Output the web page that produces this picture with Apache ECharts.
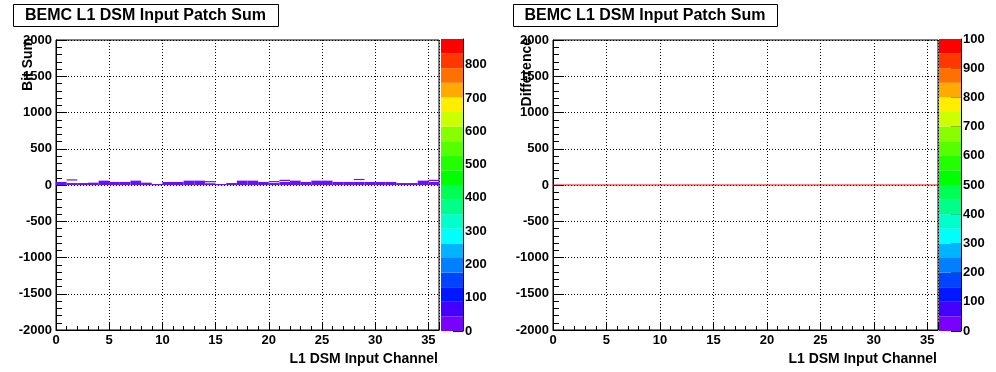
<!DOCTYPE html>
<html><head><meta charset="utf-8">
<script src="https://cdn.jsdelivr.net/npm/echarts@6/dist/echarts.min.js"></script>
<style>html,body{margin:0;padding:0;background:#fff}#c{width:996px;height:372px}</style>
</head><body><div id="c"></div>
<script>
// ---- data ----
const titleText = 'BEMC L1 DSM Input Patch Sum';
const xTitle = 'L1 DSM Input Channel';
const yTitleLeft = 'Bit Sum';
const yTitleRight = 'Difference';
const channels = [0,1,2,3,4,5,6,7,8,9,10,11,12,13,14,15,16,17,18,19,20,21,22,23,24,25,26,27,28,29,30,31,32,33,34,35];
// top of the filled band of (low-count) cells, per channel
const bandTop = [42,27,27,32,60,42,42,60,32,14,42,42,60,60,24,14,27,60,60,42,27,42,60,42,60,60,42,42,42,42,42,42,27,27,60,42];
// isolated single cells above the band
const isoChannel = [1,14,20,21,28,35];
const isoValue = [66,42,42,60,72,60];
// difference histogram: all zero
const diffValues = [0,0,0,0,0,0,0,0,0,0,0,0,0,0,0,0,0,0,0,0,0,0,0,0,0,0,0,0,0,0,0,0,0,0,0,0];
const zMaxLeft = 877;
const zMaxRight = 1000;

// ---- style ----
const palette = ['#7a00ff','#4400ff','#0018ff','#0044ff','#0080ff','#00b4ff','#00ffff','#00ffcc','#00ff88','#00ff55',
                 '#00ff00','#22ff00','#55ff00','#88ff00','#ccff00','#ffee00','#ffaa00','#ff7000','#ff3800','#ff0000'];
const cellColor = '#6a10ff';
const F = 'Liberation Sans, Arial, Helvetica, sans-serif';

const chart = echarts.init(document.getElementById('c'), null, {renderer:'canvas'});

function rectRender(params, api){
  const a = api.coord([api.value(0), api.value(3)]);
  const b = api.coord([api.value(1), api.value(2)]);
  return {type:'rect', shape:{x:a[0], y:a[1], width:b[0]-a[0], height:Math.max(b[1]-a[1],1.2)},
          style:{fill: api.visual('color'), stroke:null, lineWidth:0}};
}
function hlineRender(params, api){
  const a = api.coord([api.value(0), api.value(2)]);
  const b = api.coord([api.value(1), api.value(2)]);
  return {type:'line', shape:{x1:a[0], y1:a[1], x2:b[0], y2:b[1]}, style:{stroke:'#ff0000', lineWidth:1}};
}
const fmtNum = v => String(v);

function mainX(gi){
  return {gridIndex:gi, type:'value', min:0, max:36, interval:5,
    axisLine:{show:true, onZero:false, lineStyle:{color:'#000', width:1}},
    axisTick:{show:true, inside:true, length:8, lineStyle:{color:'#000'}},
    minorTick:{show:true, splitNumber:5, length:4, lineStyle:{color:'#000'}},
    axisLabel:{show:true, margin:4, color:'#000', fontFamily:F, fontWeight:'bold', fontSize:13, showMaxLabel:false, formatter:fmtNum},
    splitLine:{show:true, lineStyle:{color:'#000', type:[1,2], width:1}}};
}
function mainY(gi){
  return {gridIndex:gi, type:'value', min:-2000, max:2000, interval:500,
    axisLine:{show:true, onZero:false, lineStyle:{color:'#000', width:1}},
    axisTick:{show:true, inside:true, length:11, lineStyle:{color:'#000'}},
    minorTick:{show:true, splitNumber:5, length:6, lineStyle:{color:'#000'}},
    axisLabel:{show:true, margin:4, color:'#000', fontFamily:F, fontWeight:'bold', fontSize:13, formatter:fmtNum},
    splitLine:{show:true, lineStyle:{color:'#000', type:[1,2], width:1}}};
}
function barX(gi){ return {gridIndex:gi, type:'value', min:0, max:1, show:false}; }
function barY(gi, max, fmt){
  return {gridIndex:gi, type:'value', min:0, max:max, interval:100, position:'right',
    axisLine:{show:true, onZero:false, lineStyle:{color:'#000', width:1}},
    axisTick:{show:true, inside:true, length:10, lineStyle:{color:'#000'}},
    axisLabel:{show:true, margin:2, color:'#000', fontFamily:F, fontWeight:'bold', fontSize:13, showMaxLabel: max === 1000, formatter: fmt},
    splitLine:{show:false}};
}
function barData(max){
  const step = max / palette.length;
  return palette.map((c,i)=>({value:[0,1,i*step,(i+1)*step], itemStyle:{color:c}}));
}

const bandData = channels.map((c,i)=>[c, c+1, 0, bandTop[i]]);
const isoData = isoChannel.map((c,i)=>[c, c+1, isoValue[i], isoValue[i]+12]);
const diffData = channels.map((c,i)=>[c, c+1, diffValues[i]]);

const option = {
  animation:false,
  backgroundColor:'#fff',
  grid:[
    {left:56, top:40, width:383, height:290, show:true, borderColor:'#000', borderWidth:1, backgroundColor:'#fff'},
    {left:553, top:40, width:385, height:290, show:true, borderColor:'#000', borderWidth:1, backgroundColor:'#fff'},
    {left:441, top:39, width:22, height:292},
    {left:939, top:39, width:22, height:292}
  ],
  xAxis:[mainX(0), mainX(1), barX(2), barX(3)],
  yAxis:[mainY(0), mainY(1), barY(2, zMaxLeft, fmtNum), barY(3, zMaxRight, v => v === 1000 ? '100' : String(v))],
  series:[
    {type:'custom', xAxisIndex:0, yAxisIndex:0, renderItem:rectRender, data:bandData, itemStyle:{color:cellColor}, encode:{x:[0,1], y:[2,3]}},
    {type:'custom', xAxisIndex:0, yAxisIndex:0, renderItem:rectRender, data:isoData, itemStyle:{color:cellColor}, encode:{x:[0,1], y:[2,3]}},
    {type:'custom', xAxisIndex:1, yAxisIndex:1, renderItem:hlineRender, data:diffData, encode:{x:[0,1], y:[2]}},
    {type:'custom', xAxisIndex:2, yAxisIndex:2, renderItem:rectRender, data:barData(zMaxLeft), encode:{x:[0,1], y:[2,3]}},
    {type:'custom', xAxisIndex:3, yAxisIndex:3, renderItem:rectRender, data:barData(zMaxRight), encode:{x:[0,1], y:[2,3]}}
  ],
  graphic:[
    {type:'rect', left:13, top:4, shape:{width:265, height:22}, style:{fill:'#fff', stroke:'#000', lineWidth:1}},
    {type:'text', x:145.5, y:15.5, style:{text:titleText, font:'bold 16px '+F, fill:'#000', align:'center', verticalAlign:'middle'}},
    {type:'rect', left:513, top:4, shape:{width:264, height:22}, style:{fill:'#fff', stroke:'#000', lineWidth:1}},
    {type:'text', x:645, y:15.5, style:{text:titleText, font:'bold 16px '+F, fill:'#000', align:'center', verticalAlign:'middle'}},
    {type:'text', x:438, y:359, style:{text:xTitle, font:'bold 14px '+F, fill:'#000', align:'right', verticalAlign:'middle'}},
    {type:'text', x:937, y:359, style:{text:xTitle, font:'bold 14px '+F, fill:'#000', align:'right', verticalAlign:'middle'}},
    {type:'text', x:28, y:38, rotation:Math.PI/2, style:{text:yTitleLeft, font:'bold 14px '+F, fill:'#000', align:'right', verticalAlign:'middle'}},
    {type:'text', x:527, y:38, rotation:Math.PI/2, style:{text:yTitleRight, font:'bold 14px '+F, fill:'#000', align:'right', verticalAlign:'middle'}}
  ]
};
chart.setOption(option);
</script></body></html>
